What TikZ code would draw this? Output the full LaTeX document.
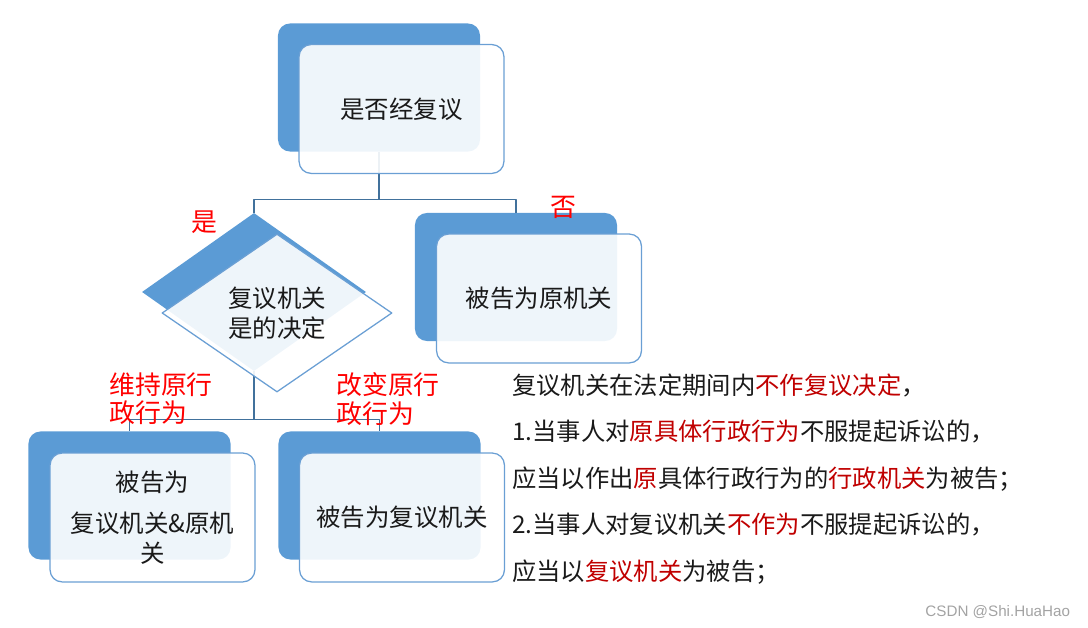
\documentclass[tikz,border=0pt]{standalone}
\usepackage{fontspec}
\setmainfont{Noto Sans CJK SC}
\setsansfont{Liberation Sans}
\usepackage{xcolor}
\usepackage{tikz}
\usetikzlibrary{shapes.geometric}
\definecolor{fcBlue}{HTML}{5B9BD5}
\definecolor{fcEdge}{HTML}{6A9FD4}
\definecolor{fcLine}{HTML}{41719C}
\definecolor{fcInk}{HTML}{1A1A1A}
\definecolor{fcRed}{HTML}{FF0000}
\definecolor{fcDark}{HTML}{C00000}
\definecolor{fcMark}{HTML}{A3A3A3}
\tikzset{
  fc diagram/.style={x=0.025cm, y=-0.025cm, text=fcInk,
    font=\fontsize{17.4}{21}\selectfont, line join=round},
  fc back/.style={fill=fcBlue, rounded corners=0.3cm, inner sep=0pt,
    minimum width=5.05cm, minimum height=3.2cm},
  fc front/.style={draw=fcEdge, fill=white, fill opacity=0.9, text opacity=1,
    line width=0.9pt, rounded corners=0.3cm, inner sep=0pt, align=center,
    minimum width=5.12cm, minimum height=3.22cm},
  fc back diamond/.style={diamond, fill=fcBlue, inner sep=0pt,
    minimum width=5.6cm, minimum height=3.95cm},
  fc front diamond/.style={diamond, draw=fcEdge, fill=white, fill opacity=0.9,
    text opacity=1, line width=0.9pt, inner sep=0pt, align=center,
    minimum width=5.75cm, minimum height=3.95cm},
  fc link/.style={draw=fcLine, line width=0.9pt},
  fc label/.style={text=fcRed, font=\fontsize{18.4}{20.5}\selectfont,
    align=left, inner sep=0pt},
  fc note/.style={font=\fontsize{17.3}{33}\selectfont, align=left, inner sep=0pt}
}

\begin{document}
\begin{tikzpicture}[fc diagram]
\useasboundingbox (0,0) rectangle (1088,628);
% back layer
\node[fc back] (topB) at (379,87.5) {};
\node[fc back diamond] (askB) at (254,292) {};
\node[fc back] (noB) at (516,277) {};
\node[fc back] (keepB) at (129.5,495.5) {};
\node[fc back] (changeB) at (379.5,495.5) {};
% connectors
\draw[fc link] (topB.south) -- ++(0,48) -| (askB.north);
\draw[fc link] (topB.south) -- ++(0,48) -| (noB.north);
\draw[fc link] (askB.south) -- ++(0,48) -| (keepB.north);
\draw[fc link] (askB.south) -- ++(0,48) -| (changeB.north);
% front layer
\node[fc front] (top) at (401.5,109) {是否经复议};
\node[fc front diamond] (ask) at (277,313) {复议机关\\是的决定};
\node[fc front] (no) at (539,298.5) {被告为原机关};
\node[fc front] (keep) at (152.5,517.5) {被告为\\[0.3cm]复议机关\&原机\\关};
\node[fc front] (change) at (402,517.5) {被告为复议机关};
% branch labels
\node[fc label] (yes) at (204,222) {是};
\node[fc label] (nope) at (563,207) {否};
\node[fc label,anchor=north west] (keepL) at (109,372) {维持原行\\政行为};
\node[fc label,anchor=north west] (changeL) at (336,372) {改变原行\\政行为};
% note
\node[fc note,anchor=west] (note) at (512,479) {%
复议机关在法定期间内\textcolor{fcDark}{不作复议决定}，\\
1.当事人对\textcolor{fcDark}{原具体行政行为}不服提起诉讼的，\\
应当以作出\textcolor{fcDark}{原}具体行政行为的\textcolor{fcDark}{行政机关}为被告；\\
2.当事人对复议机关\textcolor{fcDark}{不作为}不服提起诉讼的，\\
应当以\textcolor{fcDark}{复议机关}为被告；};
\node[text=fcMark,font=\sffamily\fontsize{10.8}{12}\selectfont,anchor=east] (mark) at (1075,612) {CSDN @Shi.HuaHao};
\end{tikzpicture}
\end{document}
